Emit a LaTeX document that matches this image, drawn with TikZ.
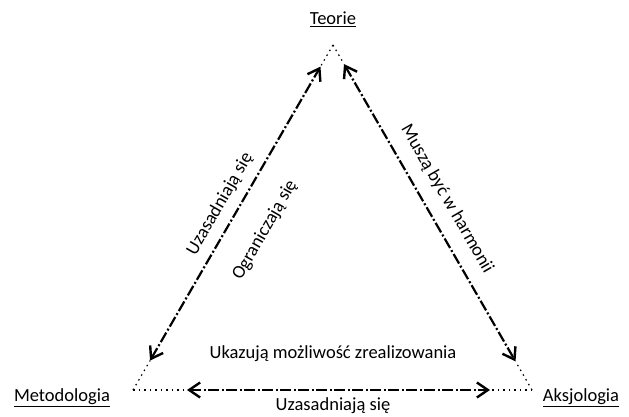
\documentclass[tikz,border=0pt]{standalone}
\usepackage{fontspec}
\setmainfont{Carlito}
\usetikzlibrary{arrows.meta,calc}
\begin{document}
\begin{tikzpicture}[x=1pt,y=-1pt,
  lbl/.style={font=\fontsize{18.5}{20}\selectfont, inner sep=0pt},
  edge/.style={line width=2.2pt, dash pattern=on 11pt off 2.5pt on 2pt off 2.5pt,
    {Straight Barb[length=11pt,width=15pt,line width=2.4pt]}-{Straight Barb[length=11pt,width=15pt,line width=2.4pt]}},
  thin/.style={line width=1.2pt, dash pattern=on 1.5pt off 4pt}]
\useasboundingbox (0,0) rectangle (629,417);
\coordinate (T) at (333,45);
\coordinate (M) at (133,390);
\coordinate (A) at (532,390);
\node[lbl] (teorie) at (333,19) {\underline{Teorie}};
\node[lbl] (metod) at (62,398) {\underline{Metodologia}};
\node[lbl] (aksj) at (581,398) {\underline{Aksjologia}};
% left edge
\coordinate (l1) at ($(T)!25pt!(M)$);
\coordinate (l2) at ($(M)!34pt!(T)$);
\draw[thin] (T) -- (l1);
\draw[thin] (M) -- (l2);
\draw[edge] (l2) -- (l1);
% right edge
\coordinate (r1) at ($(T)!22pt!(A)$);
\coordinate (r2) at ($(A)!33pt!(T)$);
\draw[thin] (T) -- (r1);
\draw[thin] (A) -- (r2);
\draw[edge] (r1) -- (r2);
% bottom edge
\coordinate (b1) at ($(M)!54pt!(A)$);
\coordinate (b2) at ($(A)!42pt!(M)$);
\draw[thin] (M) -- (b1);
\draw[thin] (A) -- (b2);
\draw[edge] (b1) -- (b2);
% labels
\node[lbl, rotate=60] (uz1) at (220,204) {Uzasadniają się};
\node[lbl, rotate=60] (ogr) at (265,230) {Ograniczają się};
\node[lbl, rotate=-60] (musz) at (447,199) {Muszą być w harmonii};
\node[lbl] (ukaz) at (333,354) {Ukazują możliwość zrealizowania};
\node[lbl] (uz2) at (333,406) {Uzasadniają się};
\end{tikzpicture}
\end{document}
